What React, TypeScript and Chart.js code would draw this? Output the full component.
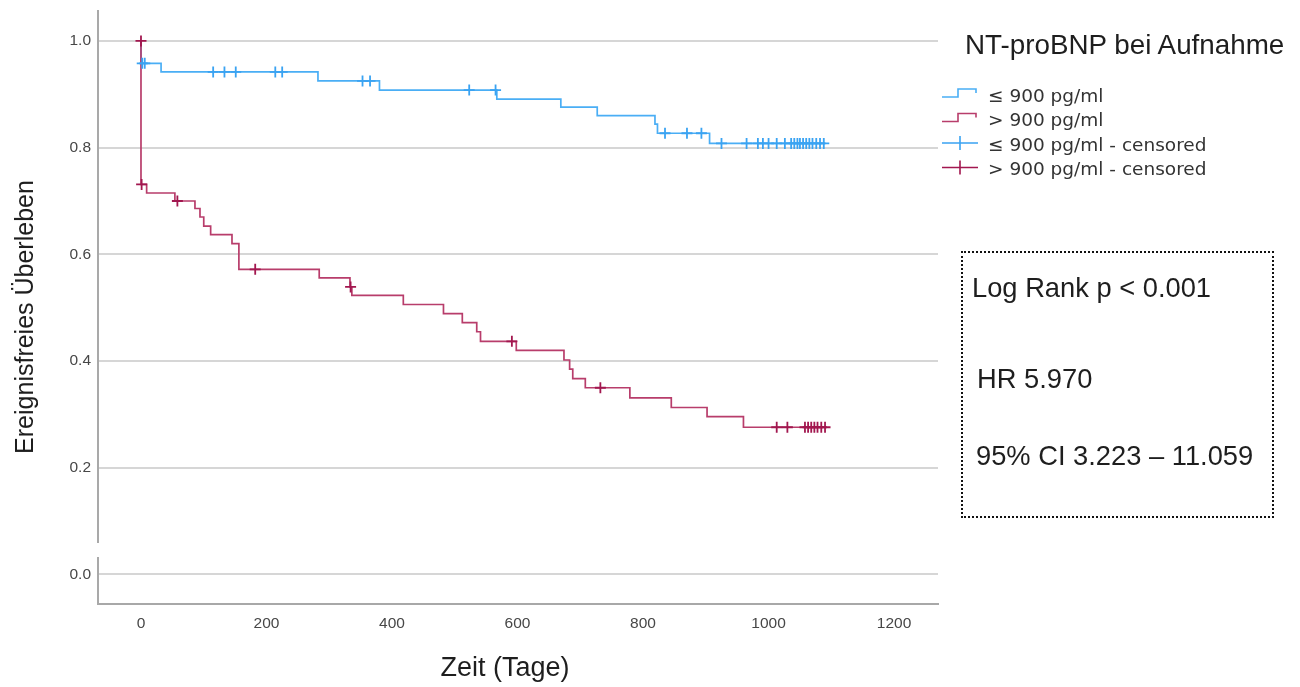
import React, { useEffect, useRef } from "react";
import { Chart, registerables } from "chart.js";

Chart.register(...registerables);

// ---- Data ----
const xTicks = [0, 200, 400, 600, 800, 1000, 1200];
const yTicks = [0, 0.2, 0.4, 0.6, 0.8, 1.0];

// ≤ 900 pg/ml : Kaplan-Meier step points (time in days, survival)
const lowTimes = [0, 0, 32, 282, 380, 567, 669, 727, 819, 823, 906, 1090];
const lowSurv = [1.0, 0.958, 0.942, 0.925, 0.908, 0.891, 0.876, 0.86, 0.844, 0.827, 0.808, 0.808];
const lowCensorTimes = [
  2, 6, 115, 133, 151, 214, 225, 353, 365, 523, 565, 835, 870, 893, 925, 965, 983, 991, 1000, 1013,
  1026, 1036, 1041, 1046, 1050, 1055, 1060, 1065, 1070, 1076, 1082, 1088,
];
const lowCensorSurv = [
  0.958, 0.958, 0.942, 0.942, 0.942, 0.942, 0.942, 0.925, 0.925, 0.908, 0.908, 0.827, 0.827, 0.827,
  0.808, 0.808, 0.808, 0.808, 0.808, 0.808, 0.808, 0.808, 0.808, 0.808, 0.808, 0.808, 0.808, 0.808,
  0.808, 0.808, 0.808, 0.808,
];

// > 900 pg/ml
const highTimes = [
  0, 0, 9, 54, 86, 94, 100, 111, 145, 156, 284, 333, 336, 418, 482, 512, 535, 541, 598, 674, 683, 688,
  708, 779, 845, 902, 960, 1092,
];
const highSurv = [
  1.0, 0.731, 0.715, 0.7, 0.686, 0.67, 0.653, 0.637, 0.62, 0.572, 0.556, 0.539, 0.523, 0.506, 0.489,
  0.472, 0.455, 0.437, 0.42, 0.402, 0.385, 0.367, 0.35, 0.331, 0.313, 0.296, 0.276, 0.276,
];
const highCensorTimes = [0, 1, 58, 182, 334, 591, 732, 1013, 1030, 1058, 1063, 1068, 1073, 1078, 1084, 1090];
const highCensorSurv = [
  1.0, 0.731, 0.7, 0.572, 0.539, 0.437, 0.35, 0.276, 0.276, 0.276, 0.276, 0.276, 0.276, 0.276, 0.276, 0.276,
];

// y axis break (gap between these values)
const breakLower = 0.033;
const breakUpper = 0.059;

const legendTitle = "NT-proBNP bei Aufnahme";
const legendLabels = ["≤ 900 pg/ml", "> 900 pg/ml", "≤ 900 pg/ml - censored", "> 900 pg/ml - censored"];
const statsLines = ["Log Rank p < 0.001", "HR 5.970", "95% CI 3.223 – 11.059"];
const xTitle = "Zeit (Tage)";
const yTitle = "Ereignisfreies Überleben";

// ---- Styles ----
const ARIAL = '"Liberation Sans", Arial, Helvetica, sans-serif';
const DEJAVU = '"DejaVu Sans", Verdana, sans-serif';
const BLUE_LINE = "#4aaef5";
const BLUE_MARK = "#3aa3f2";
const RED_LINE = "#b83d6b";
const RED_MARK = "#a2174f";

const toPts = (xs: number[], ys: number[]) => xs.map((x, i) => ({ x, y: ys[i] }));

function Txt(props: {
  left: number;
  cy: number;
  size: number;
  family?: string;
  color?: string;
  children: React.ReactNode;
}) {
  const lh = Math.round(props.size * 1.2);
  return (
    <div
      style={{
        position: "absolute",
        left: props.left,
        top: props.cy - lh / 2,
        lineHeight: `${lh}px`,
        fontSize: props.size,
        fontFamily: props.family || ARIAL,
        color: props.color || "#1e1e1e",
        whiteSpace: "nowrap",
      }}
    >
      {props.children}
    </div>
  );
}

export default function App() {
  const ref = useRef<HTMLCanvasElement>(null);

  useEffect(() => {
    const canvas = ref.current;
    if (!canvas) return;

    const brokenAxis = {
      id: "brokenAxis",
      afterDraw(chart: any) {
        const { ctx, chartArea, scales } = chart;
        const y = scales.y;
        const x0 = chartArea.left;
        ctx.save();
        ctx.strokeStyle = "#a9a9a9";
        ctx.lineWidth = 2;
        ctx.beginPath();
        ctx.moveTo(x0, chartArea.top);
        ctx.lineTo(x0, y.getPixelForValue(breakUpper));
        ctx.moveTo(x0, y.getPixelForValue(breakLower));
        ctx.lineTo(x0, chartArea.bottom + 1);
        ctx.stroke();
        ctx.restore();
      },
    };

    const tickFont = { family: ARIAL, size: 15.5 };

    const chart = new Chart(canvas, {
      type: "scatter",
      data: {
        datasets: [
          {
            label: legendLabels[3],
            data: toPts(highCensorTimes, highCensorSurv),
            showLine: false,
            pointStyle: "cross",
            pointRadius: 5.5,
            pointBorderWidth: 1.8,
            borderColor: RED_MARK,
            backgroundColor: RED_MARK,
          },
          {
            label: legendLabels[2],
            data: toPts(lowCensorTimes, lowCensorSurv),
            showLine: false,
            pointStyle: "cross",
            pointRadius: 5.5,
            pointBorderWidth: 1.8,
            borderColor: BLUE_MARK,
            backgroundColor: BLUE_MARK,
          },
          {
            label: legendLabels[1],
            data: toPts(highTimes, highSurv),
            showLine: true,
            stepped: "before",
            pointRadius: 0,
            borderWidth: 1.7,
            borderColor: RED_LINE,
            backgroundColor: RED_LINE,
          },
          {
            label: legendLabels[0],
            data: toPts(lowTimes, lowSurv),
            showLine: true,
            stepped: "before",
            pointRadius: 0,
            borderWidth: 1.7,
            borderColor: BLUE_LINE,
            backgroundColor: BLUE_LINE,
          },
        ],
      },
      options: {
        animation: false,
        responsive: false,
        maintainAspectRatio: false,
        layout: { padding: { left: 0, top: 10, right: 362, bottom: 0 } },
        plugins: { legend: { display: false }, tooltip: { enabled: false } },
        scales: {
          x: {
            type: "linear",
            min: -68.5,
            max: 1270,
            afterBuildTicks: (s: any) => {
              s.ticks = xTicks.map((v) => ({ value: v }));
            },
            afterFit: (s: any) => {
              s.height = 83;
              s.paddingLeft = 0;
              s.paddingRight = 0;
            },
            grid: { display: false, drawTicks: false },
            border: { display: true, color: "#a8a8a8", width: 2 },
            ticks: {
              font: tickFont,
              color: "#474747",
              padding: 10,
              maxRotation: 0,
              autoSkip: false,
              callback: (v: any) => String(v),
            },
          },
          y: {
            type: "linear",
            min: -0.0553,
            max: 1.058,
            afterBuildTicks: (s: any) => {
              s.ticks = yTicks.map((v) => ({ value: v }));
            },
            afterFit: (s: any) => {
              s.width = 98;
              s.paddingTop = 0;
              s.paddingBottom = 0;
            },
            grid: { color: "#d6d6d6", lineWidth: 2, drawTicks: false },
            border: { display: false },
            ticks: {
              font: tickFont,
              color: "#474747",
              padding: 7,
              autoSkip: false,
              callback: (v: any) => Number(v).toFixed(1),
            },
          },
        },
      },
      plugins: [brokenAxis],
    } as any);

    return () => chart.destroy();
  }, []);

  const legendY = [94, 118.5, 143, 167.5];

  return (
    <div style={{ position: "absolute", left: 0, top: 0, width: 1300, height: 687, background: "#fff", overflow: "hidden" }}>
      <canvas ref={ref} width={1300} height={687} style={{ position: "absolute", left: 0, top: 0 }} />

      {/* Y title */}
      <div
        style={{
          position: "absolute",
          left: 24 - 200,
          top: 317 - 15,
          width: 400,
          height: 30,
          lineHeight: "30px",
          textAlign: "center",
          fontSize: 25,
          fontFamily: ARIAL,
          color: "#1e1e1e",
          transform: "rotate(-90deg)",
          whiteSpace: "nowrap",
        }}
      >
        {yTitle}
      </div>

      {/* X title */}
      <div
        style={{
          position: "absolute",
          left: 505 - 200,
          top: 667 - 16,
          width: 400,
          lineHeight: "32px",
          textAlign: "center",
          fontSize: 27,
          fontFamily: ARIAL,
          color: "#1e1e1e",
          whiteSpace: "nowrap",
        }}
      >
        {xTitle}
      </div>

      {/* Legend */}
      <Txt left={965} cy={44} size={27.8}>
        {legendTitle}
      </Txt>
      <svg width={60} height={200} style={{ position: "absolute", left: 930, top: 0 }}>
        <path
          d={`M12 ${legendY[0] + 3} H28 V${legendY[0] - 5} H46 V${legendY[0] - 1}`}
          fill="none"
          stroke={BLUE_LINE}
          strokeWidth={1.6}
        />
        <path
          d={`M12 ${legendY[1] + 3} H28 V${legendY[1] - 5} H46 V${legendY[1] - 1}`}
          fill="none"
          stroke={RED_LINE}
          strokeWidth={1.6}
        />
        <path d={`M12 ${legendY[2]} H48 M30 ${legendY[2] - 7} V${legendY[2] + 7}`} fill="none" stroke={BLUE_MARK} strokeWidth={1.6} />
        <path d={`M12 ${legendY[3]} H48 M30 ${legendY[3] - 7} V${legendY[3] + 7}`} fill="none" stroke={RED_MARK} strokeWidth={1.6} />
      </svg>
      {legendLabels.map((l, i) => (
        <Txt key={l} left={988} cy={legendY[i] + 1.5} size={18.5} family={DEJAVU} color="#333">
          {l}
        </Txt>
      ))}

      {/* Statistics box */}
      <div
        style={{
          position: "absolute",
          left: 961,
          top: 251,
          width: 309,
          height: 263,
          border: "2px dotted #111",
        }}
      />
      <Txt left={972} cy={287} size={27.3}>
        {statsLines[0]}
      </Txt>
      <Txt left={977} cy={378} size={27.3}>
        {statsLines[1]}
      </Txt>
      <Txt left={976} cy={455} size={27.3}>
        {statsLines[2]}
      </Txt>
    </div>
  );
}
